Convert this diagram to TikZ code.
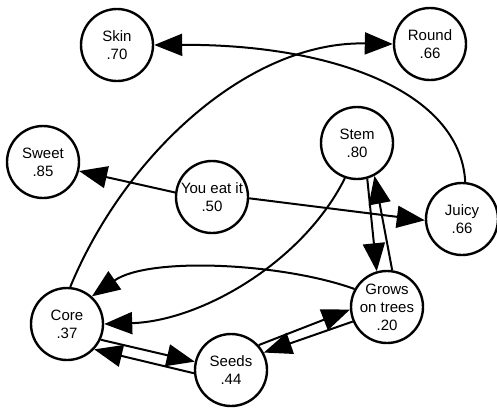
\documentclass[tikz,border=0pt]{standalone}
\usepackage{fontspec}
\setmainfont{Liberation Sans}
\usetikzlibrary{arrows.meta}
\begin{document}
\begin{tikzpicture}[x=1pt,y=-1pt,
		attr/.style={circle,draw,line width=2.4pt,minimum size=72pt,inner sep=0pt,align=center,font=\fontsize{15}{18}\selectfont},
		link/.style={line width=2pt,-{Triangle[length=28pt,width=22pt]}}]
				\useasboundingbox (0,0) rectangle (497,408);
				\node[attr] (skin)  at (117,45)  {Skin\\.70};
				\node[attr] (round) at (430,44)  {Round\\.66};
				\node[attr] (sweet) at (43,162)  {Sweet\\.85};
				\node[attr] (you)   at (212,197) {You eat it\\.50};
				\node[attr] (stem)  at (357,143) {Stem\\.80};
				\node[attr] (juicy) at (462,219) {Juicy\\.66};
				\node[attr] (grows) at (387,307) {Grows\\on trees\\.20};
				\node[attr] (core)  at (67,324)  {Core\\.37};
				\node[attr] (seeds) at (231,370) {Seeds\\.44};
				\draw[link] (juicy.85) .. controls +(-5,-92) and +(175,-1) .. (skin.east);
				\draw[link] (core.85) .. controls +(55,-133) and +(-144,-3) .. (round.west);
				\draw[link] (you.173) -- (sweet.-14);
				\draw[link] (you.-2) -- (juicy.182);
				\draw[link] (stem.-109) .. controls +(-42,84) and +(97,-3) .. (core.0);
				\draw[link] (grows.151) .. controls +(-72,-26) and +(57,-40) .. (core.48);
				\draw[link] (stem.-74) -- (grows.106);
				\draw[link] (grows.82) -- (stem.-62);
				\draw[link] (core.-25) -- (seeds.167);
				\draw[link] (seeds.185) -- (core.-43);
				\draw[link] (seeds.42) -- (grows.184);
				\draw[link] (grows.203) -- (seeds.28);
			\end{tikzpicture}
\end{document}
